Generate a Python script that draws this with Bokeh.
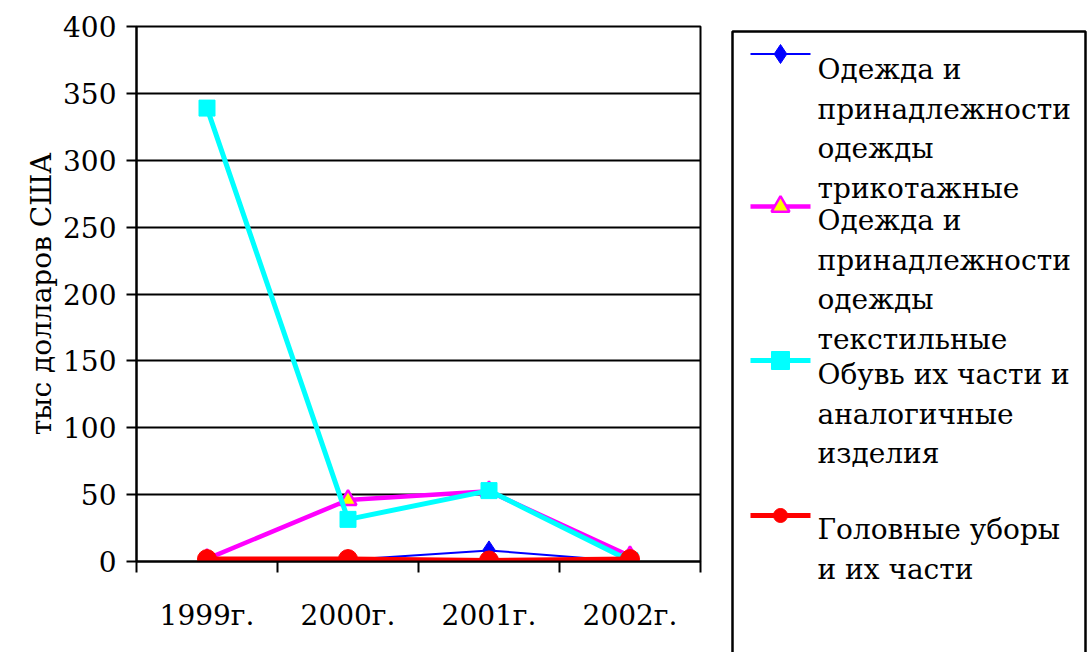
from bokeh.plotting import figure
from bokeh.models import Range1d, FixedTicker, ColumnDataSource
from bokeh.layouts import row, column
from bokeh.core.properties import value
from bokeh.embed import file_html
from bokeh.resources import INLINE

# ---- data ----
years = ["1999г.", "2000г.", "2001г.", "2002г."]
knitwear = [0, 1.3, 8.3, 0]          # Одежда и принадлежности одежды трикотажные
textile = [2, 46, 52.5, 4]           # Одежда и принадлежности одежды текстильные
footwear = [339, 31.5, 53, 0.5]      # Обувь их части и аналогичные изделия
headwear = [1.8, 1.8, 0.8, 1.8]      # Головные уборы и их части
y_ticks = [0, 50, 100, 150, 200, 250, 300, 350, 400]

legend_lines = [
    ["Одежда и", "принадлежности", "одежды", "трикотажные"],
    ["Одежда и", "принадлежности", "одежды", "текстильные"],
    ["Обувь их части и", "аналогичные", "изделия"],
    ["Головные уборы", "и их части"],
]

FONT = "DejaVu Serif"
FS = "28px"
H = 652

xs = [i + 0.5 for i in range(len(years))]

p = figure(width=728, height=H, output_backend="svg", toolbar_location=None,
           x_range=Range1d(0, len(years)), y_range=Range1d(0, 400),
           min_border_left=136, min_border_right=28, min_border_top=26, min_border_bottom=H - 561)
p.background_fill_color = "white"
p.border_fill_color = "white"
p.outline_line_color = "black"
p.outline_line_width = 2
p.xgrid.grid_line_color = None
p.ygrid.grid_line_color = "black"
p.ygrid.grid_line_width = 2
p.ygrid.ticker = FixedTicker(ticks=y_ticks)

# y axis
p.yaxis.ticker = FixedTicker(ticks=y_ticks)
p.yaxis.axis_line_width = 2
p.yaxis.major_tick_line_width = 2
p.yaxis.major_tick_in = 0
p.yaxis.major_tick_out = 10
p.yaxis.minor_tick_line_color = None
p.yaxis.major_label_text_font = FONT
p.yaxis.major_label_text_font_size = FS
p.yaxis.major_label_text_color = "black"
p.yaxis.major_label_standoff = 10
p.yaxis.axis_label = "тыс долларов США"
p.yaxis.axis_label_text_font = FONT
p.yaxis.axis_label_text_font_size = FS
p.yaxis.axis_label_text_font_style = "normal"
p.yaxis.axis_label_text_color = "black"
p.yaxis.axis_label_standoff = 2

# x axis: labels at centers, tick marks at category boundaries
p.xaxis.ticker = FixedTicker(ticks=xs, minor_ticks=list(range(len(years) + 1)))
p.xaxis.major_label_overrides = {x: y for x, y in zip(xs, years)}
p.xaxis.axis_line_width = 2
p.xaxis.major_tick_line_color = None
p.xaxis.major_tick_in = 0
p.xaxis.major_tick_out = 0
p.xaxis.minor_tick_line_color = "black"
p.xaxis.minor_tick_line_width = 2
p.xaxis.minor_tick_in = 0
p.xaxis.minor_tick_out = 11
p.xaxis.major_label_text_font = FONT
p.xaxis.major_label_text_font_size = FS
p.xaxis.major_label_text_color = "black"
p.xaxis.major_label_standoff = 26

src = ColumnDataSource(dict(x=xs, knit=knitwear, tex=textile, foot=footwear, head=headwear))

p.line("x", "knit", source=src, line_color="#0000FF", line_width=2)
p.scatter("x", "knit", source=src, marker="diamond", size=19, fill_color="#0000FF", line_color="#0000FF")

p.line("x", "tex", source=src, line_color="#FF00FF", line_width=4.5)
p.scatter("x", "tex", source=src, marker="triangle", size=17, fill_color="#FFFF00",
          line_color="#FF00FF", line_width=2.5)

p.line("x", "foot", source=src, line_color="#00FFFF", line_width=5)
p.scatter("x", "foot", source=src, marker="square", size=16, fill_color="#00FFFF", line_color="#00FFFF")

p.line("x", "head", source=src, line_color="#FF0000", line_width=5)
p.scatter("x", "head", source=src, marker="circle", size=19, fill_color="#FF0000", line_color="#FF0000")

# ---- legend panel (page-pixel coordinates) ----
LX0, LW = 728, 360
L = figure(width=LW, height=H, output_backend="svg", toolbar_location=None,
           x_range=Range1d(LX0, LX0 + LW), y_range=Range1d(H, 0),
           x_axis_location=None, y_axis_location=None, title=None,
           min_border=0, min_border_left=0, min_border_right=0, min_border_top=0, min_border_bottom=0)
L.grid.grid_line_color = None
L.outline_line_color = None
L.background_fill_color = "white"
L.border_fill_color = "white"

L.line([732, 732, 1085, 1085], [H, 31, 31, H], line_color="black", line_width=2.5)

colors = ["#0000FF", "#FF00FF", "#00FFFF", "#FF0000"]
markers = ["diamond", "triangle", "square", "circle"]
fills = ["#0000FF", "#FFFF00", "#00FFFF", "#FF0000"]
widths = [2, 4.5, 5, 5]
msizes = [19, 18, 18, 14]
sample_y = [53.5, 206, 360, 515]
first_base = [69.3, 220, 374, 529]
step = 39.5

for i in range(4):
    L.line([750, 810], [sample_y[i], sample_y[i]], line_color=colors[i], line_width=widths[i])
    L.scatter([780], [sample_y[i]], marker=markers[i], size=msizes[i], fill_color=fills[i],
              line_color=colors[i], line_width=2.5 if i == 1 else 1)
    lines = legend_lines[i]
    L.text(x=[817] * len(lines), y=[first_base[i] + k * step for k in range(len(lines))], text=lines,
           text_font=value(FONT), text_font_size=FS, text_color="black",
           text_baseline="alphabetic", text_align="left")

layout = row(p, column(L))
open("out.html", "w").write(file_html(layout, INLINE))
